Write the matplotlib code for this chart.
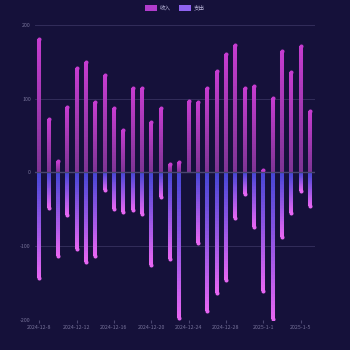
import numpy as np
import pandas as pd
import matplotlib
matplotlib.use('Agg')
import matplotlib.pyplot as plt
from matplotlib.collections import LineCollection
from matplotlib.colors import to_rgb
from matplotlib.patches import Patch

plt.rcParams['font.family'] = ['Noto Sans CJK SC', 'DejaVu Sans']

# data
dates = pd.date_range('2024-12-08', '2025-01-06', freq='D')
labels = [f'{d.year}-{d.month}-{d.day}' for d in dates]
income = [181, 72, 15, 89, 141, 150, 96, 132, 87, 58,
          114, 115, 68, 87, 12, 14, 97, 95, 115, 137,
          160, 173, 114, 117, 3, 101, 165, 136, 171, 84]
expense = [-143, -48, -113, -58, -104, -121, -113, -24, -49, -54,
           -51, -56, -125, -33, -117, -197, 0, -95, -188, -164,
           -146, -62, -29, -74, -160, -199, -87, -55, -25, -46]

bg = '#15113a'
inc_top, inc_bot = '#c53ccf', '#7e3494'
exp_top, exp_bot = '#4746d6', '#e566f2'

fig = plt.figure(figsize=(3.5, 3.5), dpi=100, facecolor=bg)
ax = fig.add_axes([0.1, 0.0857, 0.8, 0.843], facecolor=bg)

x = np.arange(len(dates))
lw = 2.9


def gradient_bar(ax, xi, y0, y1, c0, c1, n=40):
    # c0 at y0 (far end), c1 at y1 (zero end)
    if y0 == y1:
        return
    ys = np.linspace(y0, y1, n + 1)
    segs = [[(xi, ys[i]), (xi, ys[i + 1])] for i in range(n)]
    a, b = np.array(to_rgb(c0)), np.array(to_rgb(c1))
    t = np.linspace(0, 1, n)[:, None]
    cols = a * (1 - t) + b * t
    ax.add_collection(LineCollection(segs, colors=cols, linewidths=lw,
                                     capstyle='butt', zorder=3))
    ax.plot([xi], [y0], 'o', ms=lw, mew=0, color=c0, zorder=3)


for xi, v in zip(x, income):
    gradient_bar(ax, xi, v, 0, inc_top, inc_bot)
for xi, v in zip(x, expense):
    gradient_bar(ax, xi, v, 0, exp_bot, exp_top)

ax.set_xlim(-0.45, len(x) - 0.45)
ax.set_ylim(-200, 200)
ax.set_yticks([-200, -100, 0, 100, 200])
ax.set_yticklabels(['-200', '-100', '0', '100', '200'])
ax.set_xticks(x[::4])
ax.set_xticklabels(labels[::4])
ax.tick_params(colors='#77739a', labelsize=3.8, length=0, pad=3)
ax.tick_params(axis='x', length=2, color='#4a4670', pad=1.5)
for yv in [-200, -100, 100, 200]:
    ax.axhline(yv, color='#322d5a', lw=0.7, zorder=1)
ax.axhline(0, color='#4a4670', lw=1.0, zorder=4)
for s in ax.spines.values():
    s.set_visible(False)

handles = [Patch(facecolor='#b13ccc', label='收入'),
           Patch(facecolor='#8f63f0', label='支出')]
fig.legend(handles=handles, loc='upper center', bbox_to_anchor=(0.5, 1.0),
           ncol=2, frameon=False, fontsize=4, labelcolor='#b8b4d8',
           handlelength=2.2, handleheight=1.2, columnspacing=1.5,
           handletextpad=0.5)

fig.savefig('out.png', dpi=100, facecolor=bg)
